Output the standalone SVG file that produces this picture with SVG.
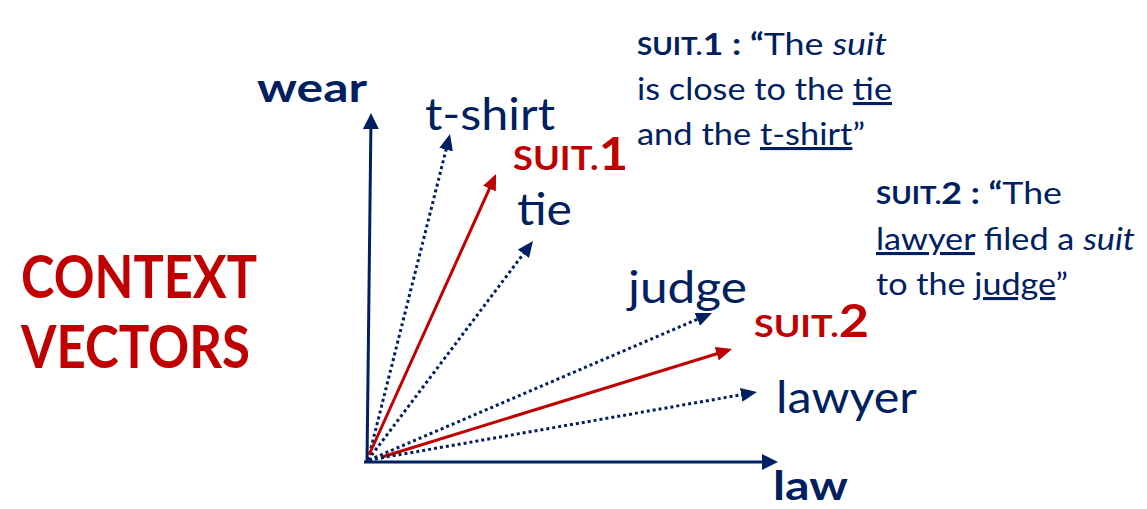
<svg xmlns="http://www.w3.org/2000/svg" width="1147" height="509" viewBox="0 0 1147 509">
<style>
.n{fill:#002060;font-family:Lato,"Liberation Sans",sans-serif}
.r{fill:#C00000;font-family:Lato,"Liberation Sans",sans-serif;font-weight:bold}
.b{font-weight:bold}
.i{font-style:italic}
.u{text-decoration:underline;text-decoration-skip-ink:none}
.ax{stroke:#002060;stroke-width:3;fill:none}
.dot{stroke:#002060;stroke-width:3;stroke-dasharray:3 3;fill:none}
.red{stroke:#C00000;stroke-width:3;fill:none}
</style>
<defs>
<marker id="an" markerUnits="userSpaceOnUse" markerWidth="18" markerHeight="16" refX="12" refY="8" orient="auto" viewBox="0 0 18 16">
<path d="M0,0 L16,8 L0,16 z" fill="#002060"/>
</marker>
<marker id="ad" markerUnits="userSpaceOnUse" markerWidth="18" markerHeight="14" refX="12" refY="7" orient="auto" viewBox="0 0 18 14">
<path d="M0,0 L16,7 L0,14 z" fill="#002060"/>
</marker>
<marker id="ar" markerUnits="userSpaceOnUse" markerWidth="18" markerHeight="14" refX="12" refY="7" orient="auto" viewBox="0 0 18 14">
<path d="M0,0 L16,7 L0,14 z" fill="#C00000"/>
</marker>
</defs>
<g id="connectors">
<line class="ax" x1="367" y1="463" x2="371" y2="117" marker-end="url(#an)"/>
<line class="ax" x1="364" y1="462" x2="774" y2="462" marker-end="url(#an)"/>
<line class="dot" x1="368" y1="460" x2="449" y2="138" marker-end="url(#ad)"/>
<line class="red" x1="369" y1="455" x2="494.4" y2="177.7" marker-end="url(#ar)"/>
<line class="dot" x1="368" y1="460" x2="530.6" y2="244.2" marker-end="url(#ad)"/>
<line class="dot" x1="369" y1="460" x2="708.3" y2="314.6" marker-end="url(#ad)"/>
<line class="red" x1="382" y1="457" x2="728.2" y2="350.2" marker-end="url(#ar)"/>
<line class="dot" x1="369" y1="460" x2="753" y2="392.7" marker-end="url(#ad)"/>
</g>
<g id="title"><text class="r" font-size="60" x="21" y="298" textLength="236" lengthAdjust="spacingAndGlyphs">CONTEXT</text>
<text class="r" font-size="60" x="21" y="368" textLength="229" lengthAdjust="spacingAndGlyphs">VECTORS</text></g>
<g id="wear"><text class="n b" font-size="40" x="257" y="102" textLength="110" lengthAdjust="spacingAndGlyphs">wear</text></g>
<g id="law"><text class="n b" font-size="40" x="773" y="500" textLength="75" lengthAdjust="spacingAndGlyphs">law</text></g>
<g id="tshirt"><text class="n" font-size="44" x="425" y="130" textLength="130" lengthAdjust="spacingAndGlyphs">t-shirt</text></g>
<g id="suit1"><text class="r" x="513" y="170" textLength="115" lengthAdjust="spacingAndGlyphs"><tspan font-size="33">SUIT.</tspan><tspan font-size="46">1</tspan></text></g>
<g id="tie"><text class="n" font-size="44" x="517" y="225" textLength="55" lengthAdjust="spacingAndGlyphs">tie</text></g>
<g id="judge"><text class="n" font-size="44" x="628" y="303" textLength="119" lengthAdjust="spacingAndGlyphs">judge</text></g>
<g id="suit2"><text class="r" x="754" y="337" textLength="115" lengthAdjust="spacingAndGlyphs"><tspan font-size="31">SUIT.</tspan><tspan font-size="45">2</tspan></text></g>
<g id="lawyer"><text class="n" font-size="44" x="776" y="413" textLength="141" lengthAdjust="spacingAndGlyphs">lawyer</text></g>
<g id="note1">
<text class="n" font-size="31" x="637" y="55" textLength="250" lengthAdjust="spacingAndGlyphs"><tspan class="b" font-size="24">SUIT.</tspan><tspan class="b">1 :  “</tspan>The <tspan class="i">suit</tspan></text>
<text class="n" font-size="31" x="637" y="100" textLength="255" lengthAdjust="spacingAndGlyphs">is close to the <tspan class="u">tie</tspan></text>
<text class="n" font-size="31" x="637" y="145" textLength="228" lengthAdjust="spacingAndGlyphs">and the <tspan class="u">t-shirt</tspan>”</text>
</g>
<g id="note2">
<text class="n" font-size="31" x="876" y="204" textLength="186" lengthAdjust="spacingAndGlyphs"><tspan class="b" font-size="24">SUIT.</tspan><tspan class="b">2 :  “</tspan>The</text>
<text class="n" font-size="31" x="876" y="250" textLength="259" lengthAdjust="spacingAndGlyphs"><tspan class="u">lawyer</tspan> filed a <tspan class="i">suit</tspan></text>
<text class="n" font-size="31" x="876" y="295" textLength="192" lengthAdjust="spacingAndGlyphs">to the <tspan class="u">judge</tspan>”</text>
</g>
</svg>
